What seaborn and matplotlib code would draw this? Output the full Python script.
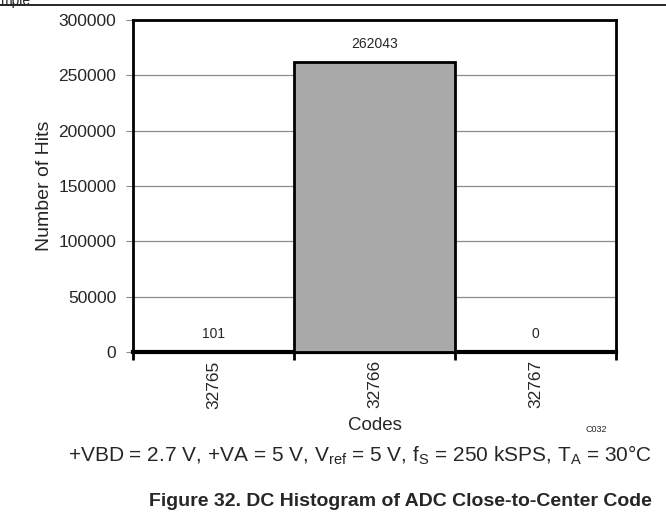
import matplotlib
matplotlib.use("Agg")
import matplotlib.pyplot as plt
import seaborn as sns
import pandas as pd
from matplotlib.lines import Line2D

codes = ["32765", "32766", "32767"]
hits = [101, 262043, 0]
yticks = [0, 50000, 100000, 150000, 200000, 250000, 300000]

sns.set_style("white")
plt.rcParams["font.family"] = ["Liberation Sans", "DejaVu Sans"]

df = pd.DataFrame({"Codes": codes, "Hits": hits})

fig = plt.figure(figsize=(6.66, 5.22), dpi=100)
ax = fig.add_axes([133/666, 1 - 352/522, (616-133)/666, (352-20)/522])

sns.barplot(data=df, x="Codes", y="Hits", ax=ax, color="#a9a9a9",
            width=1.0, edgecolor="black", linewidth=2.0, saturation=1, zorder=3)

ax.set_ylim(0, 300000)
ax.set_xlim(-0.5, 2.5)
ax.set_yticks(yticks)
ax.set_yticklabels([str(v) for v in yticks], fontsize=12.5)
ax.yaxis.grid(True, color="#8c8c8c", linewidth=0.9, zorder=0)
ax.set_axisbelow(True)

ax.set_xticks([0, 1, 2])
ax.set_xticklabels(codes, rotation=90, fontsize=12.5)
ax.set_xticks([-0.5, 0.5, 1.5, 2.5], minor=True)
ax.tick_params(axis="x", which="major", length=0, pad=6)
ax.tick_params(axis="x", which="minor", length=6, width=2, color="black", direction="out", bottom=True)
ax.tick_params(axis="y", length=5, width=0.8, color="#8c8c8c", left=True, pad=7)

for s in ["left", "right", "top"]:
    ax.spines[s].set_linewidth(2.0)
    ax.spines[s].set_color("black")
ax.spines["bottom"].set_linewidth(3.0)
ax.spines["bottom"].set_color("black")

for i, v in enumerate(hits):
    ax.annotate(str(v), xy=(i, v), xytext=(0, 8), textcoords="offset points",
                ha="center", va="bottom", fontsize=10)

ax.set_ylabel("Number of Hits", fontsize=14, labelpad=4)
ax.set_xlabel("Codes", fontsize=13.5, labelpad=6)

fig.text(596/666, 1 - 430/522, "C032", fontsize=6.5, ha="center", va="center")
fig.text(360/666, 1 - 455/522,
         r"+VBD = 2.7 V, +VA = 5 V, V$_{\mathregular{ref}}$ = 5 V, f$_{\mathregular{S}}$ = 250 kSPS, T$_{\mathregular{A}}$ = 30°C",
         fontsize=15, ha="center", va="center")
fig.text(400/666, 1 - 501/522, "Figure 32. DC Histogram of ADC Close-to-Center Code",
         fontsize=14, fontweight="bold", ha="center", va="center")

fig.add_artist(Line2D([0, 1], [1 - 5/522, 1 - 5/522], color="black", linewidth=1.2,
                      transform=fig.transFigure))
fig.text(0.0, 1.0 - 1/522, "mple", fontsize=10, ha="left", va="center")

fig.savefig("out.png", dpi=100)
